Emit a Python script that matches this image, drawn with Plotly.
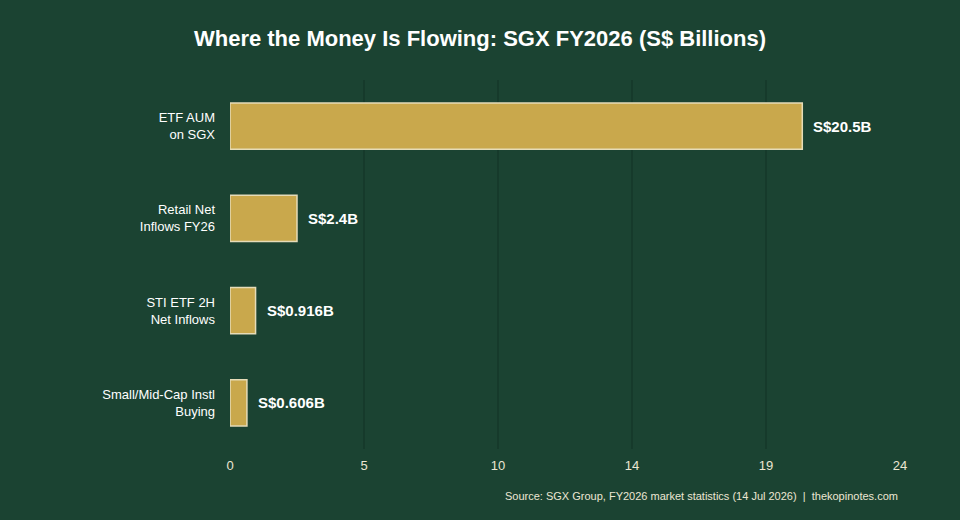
import plotly.graph_objects as go

categories = ["ETF AUM<br>on SGX", "Retail Net<br>Inflows FY26", "STI ETF 2H<br>Net Inflows", "Small/Mid-Cap Instl<br>Buying"]
values = [20.5, 2.4, 0.916, 0.606]
labels = ["S$20.5B", "S$2.4B", "S$0.916B", "S$0.606B"]
tick_vals = [0, 4.8, 9.6, 14.4, 19.2, 24]
tick_text = ["0", "5", "10", "14", "19", "24"]

BG = "#1b4332"
fig = go.Figure(go.Bar(
    x=values, y=categories, orientation="h",
    marker=dict(color="#c9a84c", line=dict(color="#e6dcb8", width=1.5)),
    width=0.5,
))
for v, c, t in zip(values, categories, labels):
    fig.add_annotation(x=v, y=c, text=f"<b>{t}</b>", showarrow=False,
                       xanchor="left", yanchor="middle", xshift=9,
                       font=dict(family="Arial", size=15, color="white"))
fig.update_layout(
    width=960, height=520,
    paper_bgcolor=BG, plot_bgcolor=BG,
    margin=dict(l=230, r=60, t=80, b=71),
    title=dict(text="<b>Where the Money Is Flowing: SGX FY2026 (S$ Billions)</b>",
               x=0.5, xanchor="center", y=0.927, yanchor="middle",
               font=dict(family="Arial", size=22, color="white")),
    font=dict(family="Arial", color="#ece6d2", size=13),
    showlegend=False,
)
fig.update_xaxes(range=[0, 24], tickvals=tick_vals, ticktext=tick_text,
                 showgrid=True, gridcolor="#163a2b", gridwidth=2, zeroline=False,
                 tickfont=dict(size=13, color="#ece6d2"), showline=False,
                 ticklabelstandoff=7)
fig.update_yaxes(autorange="reversed", showgrid=False, zeroline=False,
                 tickfont=dict(size=13, color="#ffffff"), ticklabelstandoff=14)
fig.add_annotation(text="Source: SGX Group, FY2026 market statistics (14 Jul 2026)  |  thekopinotes.com",
                   xref="paper", yref="paper", x=1, y=-0.128, xanchor="right", yanchor="middle",
                   showarrow=False, font=dict(family="Arial", size=11, color="#ece6d2"))
fig.write_html("out.html")
